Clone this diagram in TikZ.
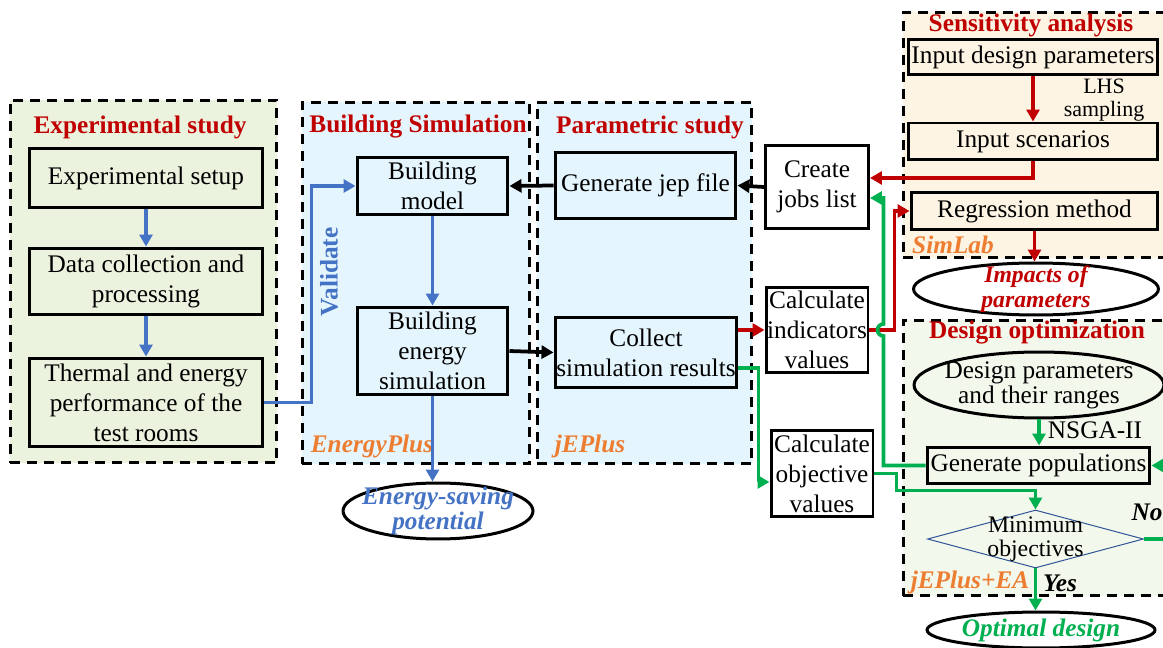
\documentclass[tikz,border=0pt]{standalone}
\usepackage{fontspec}
\setmainfont{Liberation Serif}
\usepackage{xcolor}
\definecolor{fdred}{RGB}{192,0,0}
\definecolor{fdorange}{RGB}{237,125,49}
\definecolor{fdblue}{RGB}{68,114,196}
\definecolor{fdgreen}{RGB}{0,176,80}
\definecolor{fdnavy}{RGB}{47,85,151}
\definecolor{bgexp}{RGB}{235,242,222}
\definecolor{bgsim}{RGB}{229,245,253}
\definecolor{bgsen}{RGB}{253,244,228}
\definecolor{bgopt}{RGB}{242,248,236}
\usetikzlibrary{arrows.meta,positioning,shapes.geometric,calc}

\begin{document}
\begin{tikzpicture}[x=0.02cm,y=-0.02cm,
  every node/.style={font=\fontsize{14.4}{17}\selectfont},
  panel/.style={draw,line width=0.06cm,dash pattern=on 0.2cm off 0.14cm,inner sep=0pt},
  box/.style={draw,line width=0.06cm,align=center,inner sep=0pt},
  title/.style={font=\fontsize{14.4}{17}\selectfont\bfseries,fdred},
  tool/.style={font=\fontsize{14.4}{17}\selectfont\bfseries\itshape,fdorange},
  oval/.style={draw,ellipse,line width=0.06cm,inner sep=0pt},
  arr/.style={-{Triangle[length=0.24cm,width=0.26cm]},line width=0.075cm}]
  \useasboundingbox (0,0) rectangle (1163,648);
  % Panels
  \node[panel,fill=bgexp,minimum width=5.34cm,minimum height=7.26cm] (pexp) at (143.5,281.5) {};
  \node[panel,fill=bgsim,minimum width=4.56cm,minimum height=7.24cm] (psim) at (416,283) {};
  \node[panel,fill=bgsim,minimum width=4.3cm,minimum height=7.24cm] (ppar) at (644.5,283) {};
  \node[panel,fill=bgsen,minimum width=5.44cm,minimum height=4.92cm] (psen) at (1039,135) {};
  \node[panel,fill=bgopt,minimum width=5.44cm,minimum height=5.52cm] (popt) at (1039,458) {};
  \node[title] (texp) at (140,127) {Experimental study};
  \node[title] (tsim) at (418,127) {Building Simulation};
  \node[title] (tpar) at (650,127) {Parametric study};
  \node[title] (tsen) at (1031,25) {Sensitivity analysis};
  \node[title] (topt) at (1037,333) {Design optimization};
  \node[tool] (lenergyplus) at (372,446) {EnergyPlus};
  \node[tool] (ljeplus) at (590,446) {jEPlus};
  \node[tool] (lsimlab) at (953,245) {SimLab};
  \node[tool] (ljeplusea) at (970,582) {jEPlus+EA};
  % Experimental study
  \node[box,fill=bgexp,minimum width=4.68cm,minimum height=1.2cm] (exset) at (146,178) {Experimental setup};
  \node[box,fill=bgexp,minimum width=4.68cm,minimum height=1.34cm] (exdata) at (146,281.5) {Data collection and\\processing};
  \node[box,fill=bgexp,minimum width=4.68cm,minimum height=1.78cm] (exthermal) at (146,402.5) {Thermal and energy\\performance of the\\test rooms};
  % Building simulation
  \node[box,fill=bgsim,minimum width=3.02cm,minimum height=1.14cm] (bmodel) at (432.5,186) {Building\\model};
  \node[box,fill=bgsim,minimum width=3.02cm,minimum height=1.76cm] (bsim) at (432.5,351) {Building\\energy\\simulation};
  \node[font=\fontsize{14.4}{17}\selectfont\bfseries,fdblue,rotate=90] (lvalid) at (329,272) {Validate};
  \node[oval,minimum width=3.8cm,minimum height=1.12cm] (eenergy) at (438,511) {};
  \node[font=\fontsize{14.4}{13}\selectfont\bfseries\itshape,fdblue,align=center] (teenergy) at (eenergy) {Energy-saving\\potential};
  % Parametric study
  \node[box,fill=bgsim,minimum width=3.62cm,minimum height=1.34cm] (pjep) at (645.5,185.5) {Generate jep file};
  \node[box,fill=bgsim,minimum width=3.64cm,minimum height=1.42cm] (pcollect) at (646,352.5) {Collect\\simulation results};
  \node[box,fill=white,minimum width=2.06cm,minimum height=1.68cm] (jobs) at (817,187) {Create\\jobs list};
  \node[box,fill=white,minimum width=2.04cm,minimum height=1.72cm] (calcind) at (817,330) {Calculate\\indicators\\values};
  \node[box,fill=white,minimum width=2.04cm,minimum height=1.74cm] (calcobj) at (822,473.5) {Calculate\\objective\\values};
  % Sensitivity analysis
  \node[box,fill=bgsen,minimum width=5cm,minimum height=0.7cm] (sinput) at (1033,57.5) {Input design parameters};
  \node[box,fill=bgsen,minimum width=5cm,minimum height=0.74cm] (sscen) at (1033,141.5) {Input scenarios};
  \node[box,fill=bgsen,minimum width=4.94cm,minimum height=0.76cm] (sregr) at (1034.5,211) {Regression method};
  \node[align=center,font=\fontsize{12.5}{13.5}\selectfont] (llhs) at (1104,100) {LHS\\sampling};
  \node[oval,minimum width=4.9cm,minimum height=1.04cm] (eimpact) at (1036,289) {};
  \node[font=\fontsize{13.5}{14}\selectfont\bfseries\itshape,fdred,align=center] (teimpact) at (eimpact) {Impacts of\\parameters};
  % Design optimization
  \node[oval,minimum width=5cm,minimum height=1.32cm] (edesign) at (1039,385) {};
  \node[font=\fontsize{14.4}{13}\selectfont,align=center] (tedesign) at (edesign) {Design parameters\\and their ranges};
  \node[box,fill=bgopt,minimum width=4.46cm,minimum height=0.74cm] (ogen) at (1038.5,465.5) {Generate populations};
  \node[diamond,draw=fdnavy,line width=0.02cm,fill=bgopt,inner sep=0pt,aspect=3.7,minimum width=4.32cm,minimum height=1.16cm] (odiam) at (1035.5,539) {};
  \node[font=\fontsize{13.5}{14}\selectfont,align=center] (todiam) at (odiam) {Minimum\\objectives};
  \node[oval,minimum width=4.56cm,minimum height=0.72cm] (eoptimal) at (1041,630) {};
  \node[font=\fontsize{14.4}{17}\selectfont\bfseries\itshape,fdgreen] (teoptimal) at (eoptimal) {Optimal design};
  \node (lnsga) at (1095,430) {NSGA-II};
  \node[font=\fontsize{14.4}{17}\selectfont\bfseries\itshape] (lno) at (1147,512) {No};
  \node[font=\fontsize{14.4}{17}\selectfont\bfseries\itshape] (lyes) at (1060,583) {Yes};
  % Blue connectors
  \draw[arr,fdblue] (exset) -- (exdata);
  \draw[arr,fdblue] (exdata) -- (exthermal);
  \draw[arr,fdblue] (exthermal.east) -- ++(47,0) |- (bmodel.west);
  \draw[arr,fdblue] (bmodel) -- (bsim);
  \draw[arr,fdblue] (bsim.south) -- (bsim.south |- eenergy.north);
  % Black connectors
  \draw[arr] (pjep.west) -- (bmodel.east);
  \draw[arr] (bsim.east) -- (pcollect.west);
  \draw[arr] (jobs.west) -- (pjep.east);
  % Red connectors
  \draw[arr,fdred] (pcollect.east |- calcind.west) -- (calcind.west);
  \draw[arr,fdred] (calcind.east) -- ++(25,0) |- (sregr.west);
  \draw[arr,fdred] (sinput) -- (sscen);
  \draw[arr,fdred] (sscen.south) |- ([yshift=0.18cm]jobs.east);
  \draw[arr,fdred] (sregr.south) -- (sregr.south |- eimpact.north);
  % Green connectors
  \draw[arr,fdgreen] ([yshift=-0.31cm]pcollect.east) -- ++(20,0) |- ([yshift=-0.17cm]calcobj.west);
  \draw[arr,fdgreen] (calcobj.east) -- ++(22,0) -- ++(0,17) -| (odiam.north);
  \draw[arr,fdgreen] (ogen.west) -- ++(-42,0) coordinate (gbend) -- ($(gbend |- calcind.east)+(0,6)$)
    arc[start angle=90,end angle=270,radius=6] |- ([yshift=-0.22cm]jobs.east);
  \draw[arr,fdgreen] (edesign.south) -- (edesign.south |- ogen.north);
  \draw[arr,fdgreen] (odiam.east) -- ++(40,0) |- (ogen.east);
  \draw[arr,fdgreen] (odiam.south) -- (odiam.south |- eoptimal.north);
\end{tikzpicture}
\end{document}
